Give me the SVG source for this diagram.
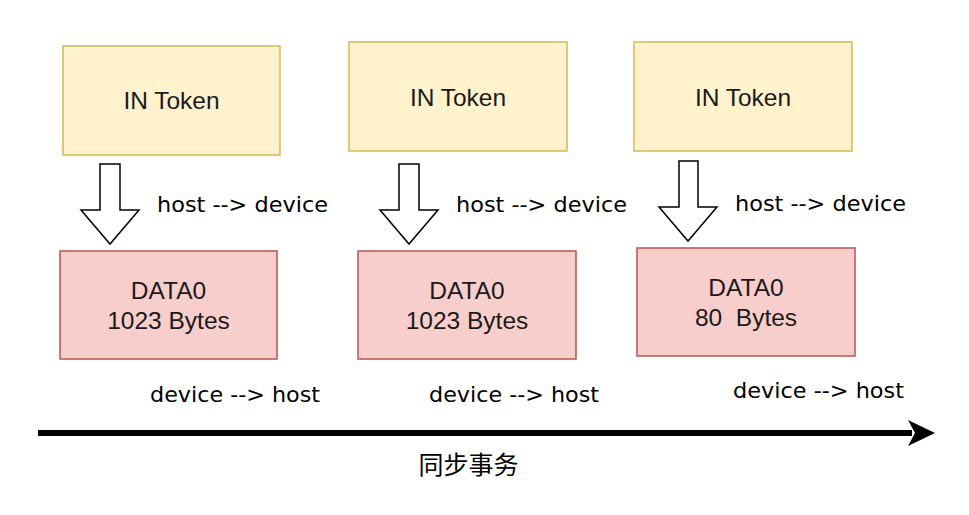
<svg xmlns="http://www.w3.org/2000/svg" width="969" height="515" viewBox="0 0 969 515">
<defs>
<style>
.tok{fill:#fff2cc;stroke:#d6b656;stroke-width:1.5}
.dat{fill:#f8cecc;stroke:#b85450;stroke-width:1.5}
.bt{font-family:"Liberation Sans",Arial,sans-serif;font-size:24.5px;fill:#1a1a1a;text-anchor:middle}
.lb{font-family:"Comic Sans MS","DejaVu Sans",sans-serif;font-size:22px;fill:#000}
.ba{fill:#fff;stroke:#000;stroke-width:1.5;stroke-linejoin:miter}
.cjk{font-family:"Noto Sans CJK SC",sans-serif;font-size:25px;fill:#000;text-anchor:middle}
</style>
<marker id="ah" markerUnits="userSpaceOnUse" markerWidth="30" markerHeight="30" viewBox="0 0 30 30" refX="4" refY="15" orient="auto">
<path d="M0,2 L27,15 L0,28 L7,15 Z" fill="#000"/>
</marker>
</defs>
<rect width="969" height="515" fill="#fff"/>
<g id="token1"><rect class="tok" x="63" y="46" width="217" height="109"/><text class="bt" x="171.5" y="109">IN Token</text></g>
<g id="token2"><rect class="tok" x="349" y="42" width="218" height="109"/><text class="bt" x="458" y="106">IN Token</text></g>
<g id="token3"><rect class="tok" x="634" y="42" width="218" height="109"/><text class="bt" x="743" y="106">IN Token</text></g>
<g id="data1"><rect class="dat" x="60" y="251" width="217" height="108"/><text class="bt" x="168.5" y="299">DATA0</text><text class="bt" x="168.5" y="329">1023 Bytes</text></g>
<g id="data2"><rect class="dat" x="358" y="251" width="218" height="108"/><text class="bt" x="467" y="299">DATA0</text><text class="bt" x="467" y="329">1023 Bytes</text></g>
<g id="data3"><rect class="dat" x="637" y="248" width="218" height="108"/><text class="bt" x="746" y="296">DATA0</text><text class="bt" x="746" y="326" xml:space="preserve">80  Bytes</text></g>
<g id="connectors">
<path class="ba" d="M100,164 H120 V210 H139 L110,244 L81,210 H100 Z"/>
<path class="ba" d="M399,164 H419 V210 H438 L409,244 L380,210 H399 Z"/>
<path class="ba" d="M679,161 H698 V207 H717 L688,241 L659,207 H679 Z"/>
<line x1="38" y1="433" x2="912" y2="433" stroke="#000" stroke-width="6" marker-end="url(#ah)"/>
</g>
<g id="labels">
<text class="lb" x="157" y="212" textLength="171" lengthAdjust="spacingAndGlyphs">host --&gt; device</text>
<text class="lb" x="456" y="212" textLength="171" lengthAdjust="spacingAndGlyphs">host --&gt; device</text>
<text class="lb" x="735" y="211" textLength="171" lengthAdjust="spacingAndGlyphs">host --&gt; device</text>
<text class="lb" x="150" y="402" textLength="170" lengthAdjust="spacingAndGlyphs">device --&gt; host</text>
<text class="lb" x="429" y="402" textLength="170" lengthAdjust="spacingAndGlyphs">device --&gt; host</text>
<text class="lb" x="733" y="398" textLength="171" lengthAdjust="spacingAndGlyphs">device --&gt; host</text>
<text class="cjk" x="468.5" y="474">同步事务</text>
</g>
</svg>
